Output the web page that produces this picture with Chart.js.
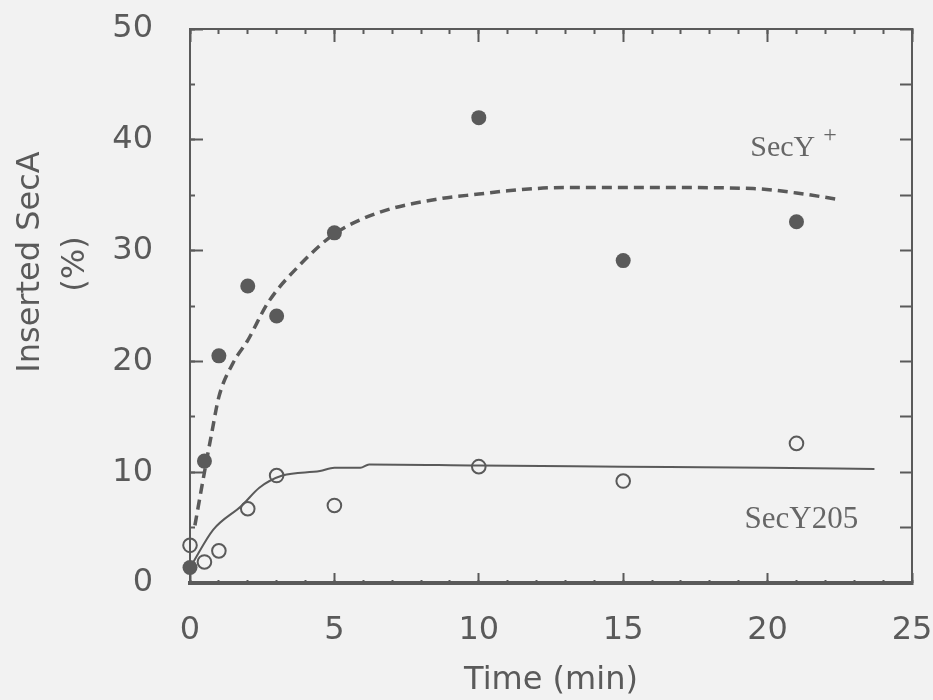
<!DOCTYPE html>
<html>
<head>
<meta charset="utf-8">
<script src="https://cdn.jsdelivr.net/npm/chart.js@4.4.0/dist/chart.umd.min.js"></script>
<style>
  html, body { margin: 0; padding: 0; background: #f2f2f2; }
  canvas { display: block; }
</style>
</head>
<body>
<canvas id="chart" width="933" height="700"></canvas>
<script>
// measured points (time in min, inserted SecA in %)
const timePoints = [0, 0.5, 1, 2, 3, 5, 10, 15, 21];
const secYPlus = [1.4, 11.0, 20.5, 26.8, 24.1, 31.6, 42.0, 29.1, 32.6];
const secY205 = [3.4, 1.9, 2.9, 6.7, 9.7, 7.0, 10.5, 9.2, 12.6];

// fitted curves as drawn in the figure
const fitPlusTime = [0.17, 0.5, 0.75, 1, 1.5, 2, 2.7, 3.8, 5, 6.5, 8.7, 10, 11, 13, 16, 19.5, 21, 22.5];
const fitPlus = [5.2, 10, 13.5, 16.8, 19.9, 21.9, 25.3, 28.7, 31.5, 33.4, 34.7, 35.1, 35.4, 35.7, 35.7, 35.6, 35.2, 34.6];
const fit205Time = [0.05, 0.8, 1.8, 2.4, 3.2, 4.5, 5, 5.9, 6.2, 10, 15, 20, 23.7];
const fit205 = [1.6, 4.8, 7.0, 8.6, 9.7, 10.1, 10.4, 10.4, 10.7, 10.6, 10.5, 10.4, 10.3];

const xRange = [0, 25];
const yRange = [0, 50];

const ink = '#5a5a5a';
const sans = { family: 'DejaVu Sans', size: 32 };

const pts = (xs, ys) => xs.map((x, i) => ({ x: x, y: ys[i] }));

// fixed box size, and no label overhang padding pushed into the layout
const fixBox = (w, h) => s => {
  if (w !== null) s.width = w;
  if (h !== null) s.height = h;
  s.paddingTop = s.paddingBottom = s.paddingLeft = s.paddingRight = 0;
};

const labelsPlugin = {
  id: 'labels',
  afterDraw(chart) {
    const ctx = chart.ctx;
    const xs = chart.scales.x, ys = chart.scales.y;
    ctx.save();
    ctx.fillStyle = ink;

    // y axis title, two lines
    ctx.font = '32px "DejaVu Sans"';
    ctx.textAlign = 'center';
    ctx.textBaseline = 'alphabetic';
    ctx.save();
    ctx.translate(39, 262);
    ctx.rotate(-Math.PI / 2);
    ctx.fillText('Inserted SecA', 0, 0);
    ctx.restore();
    ctx.save();
    ctx.translate(84, 264);
    ctx.rotate(-Math.PI / 2);
    ctx.fillText('(%)', 0, 0);
    ctx.restore();

    // curve labels
    ctx.textAlign = 'left';
    ctx.fillStyle = '#666';
    ctx.font = '30px "Liberation Serif"';
    const px = xs.getPixelForValue(19.4), py = ys.getPixelForValue(38.5);
    ctx.fillText('SecY', px, py);
    const w = ctx.measureText('SecY').width;
    ctx.font = '24px "Liberation Serif"';
    ctx.fillText('+', px + w + 8, py - 14);
    ctx.font = '31px "Liberation Serif"';
    ctx.fillText('SecY205', xs.getPixelForValue(19.2), ys.getPixelForValue(5.0));
    ctx.restore();
  }
};

new Chart(document.getElementById('chart'), {
  type: 'scatter',
  data: {
    datasets: [
      {
        label: 'SecY+ points',
        data: pts(timePoints, secYPlus),
        pointRadius: 7.5,
        pointBackgroundColor: ink,
        pointBorderColor: ink,
        pointBorderWidth: 0,
        clip: false
      },
      {
        label: 'SecY205 points',
        data: pts(timePoints, secY205),
        pointRadius: 6.8,
        pointBackgroundColor: 'rgba(0,0,0,0)',
        pointBorderColor: ink,
        pointBorderWidth: 2,
        clip: false
      },
      {
        label: 'SecY+ fit',
        data: pts(fitPlusTime, fitPlus),
        showLine: true,
        pointRadius: 0,
        borderColor: ink,
        borderWidth: 3.5,
        borderDash: [10, 6],
        cubicInterpolationMode: 'monotone',
        clip: false
      },
      {
        label: 'SecY205 fit',
        data: pts(fit205Time, fit205),
        showLine: true,
        pointRadius: 0,
        borderColor: ink,
        borderWidth: 2,
        cubicInterpolationMode: 'monotone',
        clip: false
      }
    ]
  },
  options: {
    responsive: false,
    animation: false,
    layout: { padding: { top: 29, right: 21, bottom: 0, left: 0 } },
    plugins: { legend: { display: false }, tooltip: { enabled: false } },
    scales: {
      x: {
        type: 'linear', position: 'bottom', min: xRange[0], max: xRange[1], weight: 10,
        ticks: { stepSize: 5, color: ink, font: sans, padding: 38, maxRotation: 0 },
        grid: { drawOnChartArea: false, tickLength: -10, tickWidth: 2, tickColor: ink },
        border: { width: 4, color: ink },
        title: { display: true, text: 'Time (min)', color: ink, font: sans, padding: 0 },
        afterFit: fixBox(null, 117)
      },
      xMinor: {
        type: 'linear', position: 'bottom', min: xRange[0], max: xRange[1], weight: 0,
        ticks: { display: false, stepSize: 1 },
        grid: { drawOnChartArea: false, tickLength: -3, tickWidth: 2, tickColor: ink },
        border: { display: false },
        afterFit: fixBox(null, 0)
      },
      xTop: {
        type: 'linear', position: 'top', min: xRange[0], max: xRange[1], weight: 1,
        ticks: { display: false, stepSize: 5 },
        grid: { drawOnChartArea: false, tickLength: -13, tickWidth: 2, tickColor: ink },
        border: { width: 2, color: ink },
        afterFit: fixBox(null, 0)
      },
      xTopMinor: {
        type: 'linear', position: 'top', min: xRange[0], max: xRange[1], weight: 0,
        ticks: { display: false, stepSize: 1 },
        grid: { drawOnChartArea: false, tickLength: -5, tickWidth: 2, tickColor: ink },
        border: { display: false },
        afterFit: fixBox(null, 0)
      },
      y: {
        type: 'linear', position: 'left', min: yRange[0], max: yRange[1], weight: 10,
        ticks: { stepSize: 10, color: ink, font: sans, padding: 50 },
        grid: { drawOnChartArea: false, tickLength: -13, tickWidth: 2, tickColor: ink },
        border: { width: 2, color: ink },
        afterFit: fixBox(190, null)
      },
      yMinor: {
        type: 'linear', position: 'left', min: yRange[0], max: yRange[1], weight: 0,
        ticks: { display: false, stepSize: 5 },
        grid: { drawOnChartArea: false, tickLength: -5, tickWidth: 2, tickColor: ink },
        border: { display: false },
        afterFit: fixBox(0, null)
      },
      yRight: {
        type: 'linear', position: 'right', min: yRange[0], max: yRange[1], weight: 0,
        ticks: { display: false, stepSize: 5 },
        grid: { drawOnChartArea: false, tickLength: -12, tickWidth: 2, tickColor: ink },
        border: { width: 2, color: ink },
        afterFit: fixBox(0, null)
      }
    }
  },
  plugins: [labelsPlugin]
});
</script>
</body>
</html>
